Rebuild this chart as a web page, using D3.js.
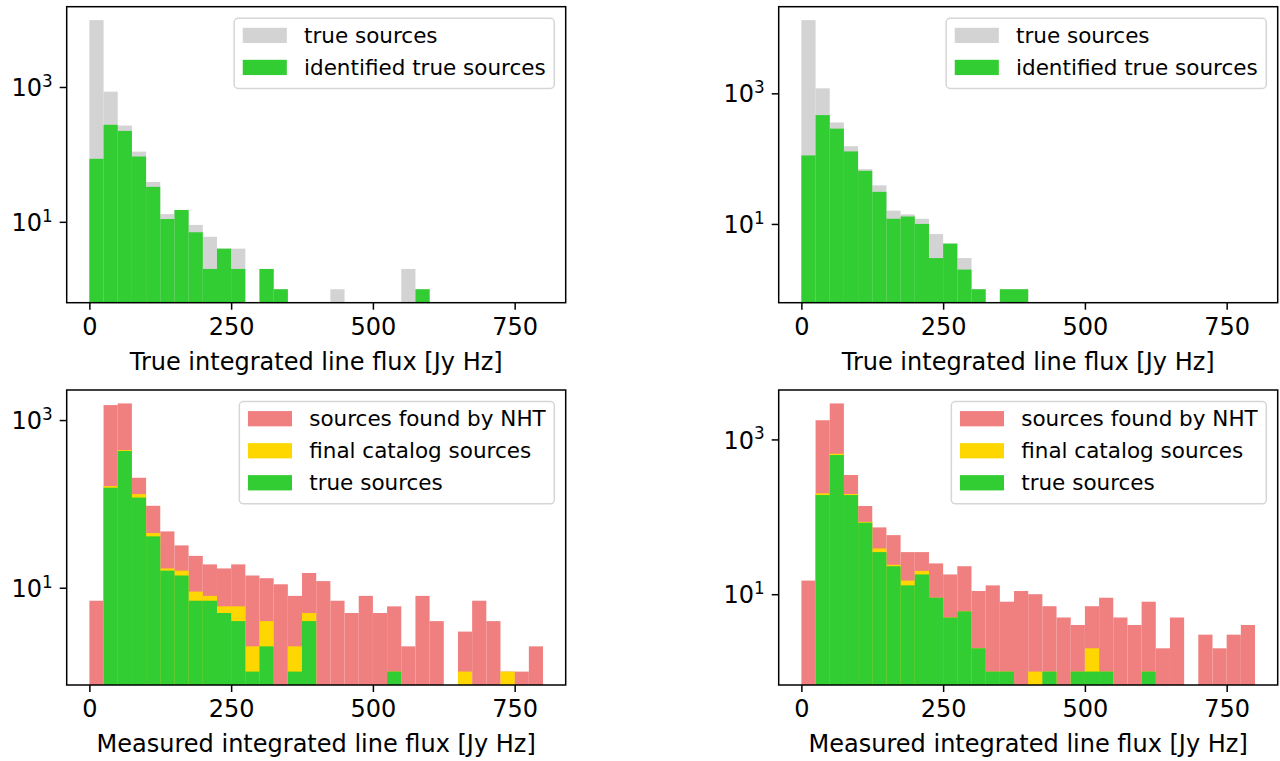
<!DOCTYPE html>
<html>
<head>
<meta charset="utf-8">
<script src="https://cdn.jsdelivr.net/npm/d3@7/dist/d3.min.js"></script>
<style>
  body { margin: 0; background: #fff; }
  text { font-family: "DejaVu Sans", sans-serif; fill: #000; }
</style>
</head>
<body>
<svg id="chart" width="1280" height="761"></svg>
<script>
// histogram bins, 25 Jy Hz wide
const binEdges = [0, 25, 50, 75, 100, 125, 150, 175, 200, 225, 250, 275, 300, 325, 350, 375,
  400, 425, 450, 475, 500, 525, 550, 575, 600, 625, 650, 675, 700, 725, 750, 775, 800]

const xTicks = [0, 250, 500, 750]
const yTicks = [10, 1000]
const yTickLabels = [['10', '1'], ['10', '3']]

// top left: true flux, run A
const trueA = [9800, 853, 268, 110, 39, 13, 15, 9, 6, 4, 4, 0, 2, 1, 0, 0,
  0, 1, 0, 0, 0, 0, 2, 1, 0, 0, 0, 0, 0, 0, 0, 0]
const identA = [86, 275, 223, 93, 33, 11, 15, 7, 2, 4, 2, 0, 2, 1, 0, 0,
  0, 0, 0, 0, 0, 0, 0, 1, 0, 0, 0, 0, 0, 0, 0, 0]

// top right: true flux, run B
const trueB = [13200, 1194, 358, 155, 69, 39, 16, 14, 12, 7, 5, 3, 1, 0, 1, 1,
  0, 0, 0, 0, 0, 0, 0, 0, 0, 0, 0, 0, 0, 0, 0, 0]
const identB = [112, 464, 288, 129, 65, 31, 12, 13, 10, 3, 5, 2, 1, 0, 1, 1,
  0, 0, 0, 0, 0, 0, 0, 0, 0, 0, 0, 0, 0, 0, 0, 0]

// bottom left: measured flux, run A
const nhtA = [7, 1510, 1580, 205, 95, 47, 32, 24, 19, 17, 19, 14, 13, 11, 8, 15,
  12, 7, 5, 8, 5, 6, 2, 8, 4, 0, 3, 7, 4, 1, 1, 2]
const catalogA = [0, 163, 438, 131, 45, 17, 16, 9, 8, 6, 6, 2, 4, 0, 2, 5,
  0, 0, 0, 0, 0, 1, 0, 0, 0, 0, 1, 0, 0, 1, 0, 0]
const matchedA = [0, 156, 427, 119, 41, 16, 14, 7, 7, 5, 4, 1, 2, 0, 1, 4,
  0, 0, 0, 0, 0, 1, 0, 0, 0, 0, 0, 0, 0, 0, 0, 0]

// bottom right: measured flux, run B
const nhtB = [15, 1770, 2920, 347, 138, 73, 58, 35, 35, 25, 18, 23, 11, 13, 8, 11,
  10, 7, 5, 4, 7, 9, 5, 4, 8, 2, 5, 0, 3, 2, 3, 4]
const catalogB = [0, 201, 653, 197, 86, 39, 24, 15, 20, 9, 5, 6, 2, 1, 1, 0,
  1, 1, 0, 1, 2, 1, 0, 0, 1, 0, 0, 0, 0, 0, 0, 0]
const matchedB = [0, 191, 628, 191, 84, 35, 23, 13, 18, 9, 5, 6, 2, 1, 1, 0,
  0, 1, 0, 1, 1, 1, 0, 0, 1, 0, 0, 0, 0, 0, 0, 0]

const colors = { gray: '#d3d3d3', green: '#32cd32', red: '#f08080', gold: '#ffd700' }

const panels = [
  { left: 66.7, top: 6.7, right: 565.7, bottom: 302.7, xLabel: 'True integrated line flux [Jy Hz]',
    series: [
      { name: 'true sources', values: trueA, color: colors.gray },
      { name: 'identified true sources', values: identA, color: colors.green }] },
  { left: 778.7, top: 6.7, right: 1277.7, bottom: 302.7, xLabel: 'True integrated line flux [Jy Hz]',
    series: [
      { name: 'true sources', values: trueB, color: colors.gray },
      { name: 'identified true sources', values: identB, color: colors.green }] },
  { left: 66.7, top: 390, right: 565.7, bottom: 685, xLabel: 'Measured integrated line flux [Jy Hz]',
    series: [
      { name: 'sources found by NHT', values: nhtA, color: colors.red },
      { name: 'final catalog sources', values: catalogA, color: colors.gold },
      { name: 'true sources', values: matchedA, color: colors.green }] },
  { left: 778.7, top: 390, right: 1277.7, bottom: 685, xLabel: 'Measured integrated line flux [Jy Hz]',
    series: [
      { name: 'sources found by NHT', values: nhtB, color: colors.red },
      { name: 'final catalog sources', values: catalogB, color: colors.gold },
      { name: 'true sources', values: matchedB, color: colors.green }] }
]

const tickFont = 24
const labelFont = 24
const legendFont = 21.5

const svg = d3.select('#chart')

panels.forEach((p, idx) => {
  const g = svg.append('g')

  // x margin like matplotlib: 5% of the data range on both sides
  const xMin = binEdges[0], xMax = binEdges[binEdges.length - 1]
  const xPad = (xMax - xMin) * 0.05
  const x = d3.scaleLinear().domain([xMin - xPad, xMax + xPad]).range([p.left, p.right])

  // log y with 5% margin in decades, counts start at 1
  const maxCount = d3.max(p.series, s => d3.max(s.values))
  const L = Math.log10(maxCount)
  const y = d3.scaleLog().domain([Math.pow(10, -0.05 * L), Math.pow(10, 1.05 * L)]).range([p.bottom, p.top])

  const clipId = 'clip' + idx
  g.append('clipPath').attr('id', clipId)
    .append('rect')
    .attr('x', p.left).attr('y', p.top)
    .attr('width', p.right - p.left).attr('height', p.bottom - p.top)

  const bars = g.append('g').attr('clip-path', `url(#${clipId})`)

  p.series.forEach(s => {
    const bins = s.values.map((v, i) => ({ x0: binEdges[i], x1: binEdges[i + 1], v }))
      .filter(d => d.v > 0)
    bars.selectAll(null)
      .data(bins)
      .join('rect')
      .attr('x', d => x(d.x0))
      .attr('width', d => x(d.x1) - x(d.x0))
      .attr('y', d => y(d.v))
      .attr('height', d => p.bottom - y(d.v))
      .attr('fill', s.color)
  })

  // x axis
  const xAxis = g.append('g')
    .attr('transform', `translate(0,${p.bottom})`)
    .call(d3.axisBottom(x).tickValues(xTicks).tickSize(7).tickPadding(8).tickSizeOuter(0))
  xAxis.select('.domain').remove()
  xAxis.selectAll('line').attr('stroke', '#000').attr('stroke-width', 1.5)
  xAxis.selectAll('text').attr('font-size', tickFont).attr('font-family', 'DejaVu Sans')

  // y axis with 10^n labels
  const yAxis = g.append('g')
    .attr('transform', `translate(${p.left},0)`)
    .call(d3.axisLeft(y).tickValues(yTicks).tickSize(7).tickPadding(7).tickSizeOuter(0))
  yAxis.select('.domain').remove()
  yAxis.selectAll('line').attr('stroke', '#000').attr('stroke-width', 1.5)
  yAxis.selectAll('text')
    .attr('font-size', tickFont)
    .attr('font-family', 'DejaVu Sans')
    .attr('dy', '0.36em')
    .text(null)
    .each(function (d, i) {
      const t = d3.select(this)
      t.append('tspan').text(yTickLabels[i][0])
      t.append('tspan').attr('font-size', tickFont * 0.7).attr('dy', '-0.55em').text(yTickLabels[i][1])
    })

  // frame
  g.append('rect')
    .attr('x', p.left).attr('y', p.top)
    .attr('width', p.right - p.left).attr('height', p.bottom - p.top)
    .attr('fill', 'none').attr('stroke', '#000').attr('stroke-width', 1.5)

  g.append('text')
    .attr('x', (p.left + p.right) / 2)
    .attr('y', p.bottom + 67)
    .attr('text-anchor', 'middle')
    .attr('font-size', labelFont)
    .text(p.xLabel)

  // legend in upper right
  const fs = legendFont
  const legend = g.append('g')
  const texts = p.series.map((s, i) => legend.append('text')
    .attr('font-size', fs)
    .text(s.name))
  const textW = d3.max(texts, t => t.node().getComputedTextLength())
  const boxW = fs * (0.4 + 2.05 + 0.8 + 0.4) + textW
  const rowStep = 1.49 * fs
  const boxH = fs * (0.795 + 0.977) + rowStep * (p.series.length - 1)
  const boxRight = p.right - 0.53 * fs
  const boxTop = p.top + 0.54 * fs
  const boxLeft = boxRight - boxW

  legend.insert('rect', 'text')
    .attr('x', boxLeft).attr('y', boxTop)
    .attr('width', boxW).attr('height', boxH)
    .attr('rx', 4).attr('ry', 4)
    .attr('fill', '#fff').attr('fill-opacity', 0.8)
    .attr('stroke', '#d6d6d6').attr('stroke-width', 1.5)

  p.series.forEach((s, i) => {
    const cy = boxTop + 0.795 * fs + i * rowStep
    legend.append('rect')
      .attr('x', boxLeft + 0.4 * fs).attr('y', cy - 0.355 * fs)
      .attr('width', 2.05 * fs).attr('height', 0.71 * fs)
      .attr('fill', s.color)
    texts[i]
      .attr('x', boxLeft + (0.4 + 2.05 + 0.8) * fs)
      .attr('y', cy + 0.35 * fs)
  })
})
</script>
</body>
</html>
